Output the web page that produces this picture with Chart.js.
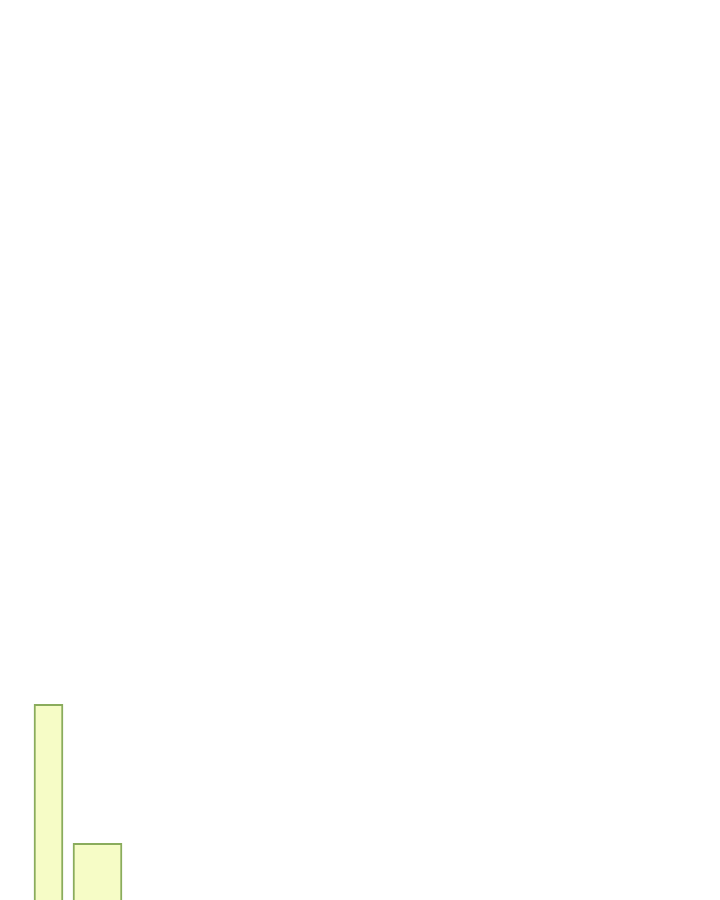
<!DOCTYPE html>
<html>
<head>
<meta charset="utf-8">
<script src="https://cdn.jsdelivr.net/npm/chart.js@4/dist/chart.umd.min.js"></script>
<style>
  html, body { margin: 0; padding: 0; background: #ffffff; }
  #wrap { width: 720px; height: 900px; }
</style>
</head>
<body>
<div id="wrap"><canvas id="c" width="720" height="900"></canvas></div>
<script>
// Data
const categories = ['A', 'B'];
const xCenters = [4.85, 9.75];
const values = [10, 2.9];
const barWidthsPx = [29, 49];

const datasets = categories.map((c, i) => ({
  label: c,
  data: [{ x: xCenters[i], y: values[i] }],
  backgroundColor: 'rgb(246,252,198)',
  borderColor: 'rgb(138,172,92)',
  borderWidth: 2,
  barThickness: barWidthsPx[i],
  grouped: false
}));

new Chart(document.getElementById('c'), {
  type: 'bar',
  data: { datasets },
  options: {
    responsive: false,
    animation: false,
    devicePixelRatio: 1,
    layout: { padding: 0 },
    plugins: { legend: { display: false }, tooltip: { enabled: false } },
    scales: {
      x: { type: 'linear', min: 0, max: 72, offset: false, display: false },
      y: { min: 0, max: 46, display: false }
    }
  }
});
</script>
</body>
</html>
